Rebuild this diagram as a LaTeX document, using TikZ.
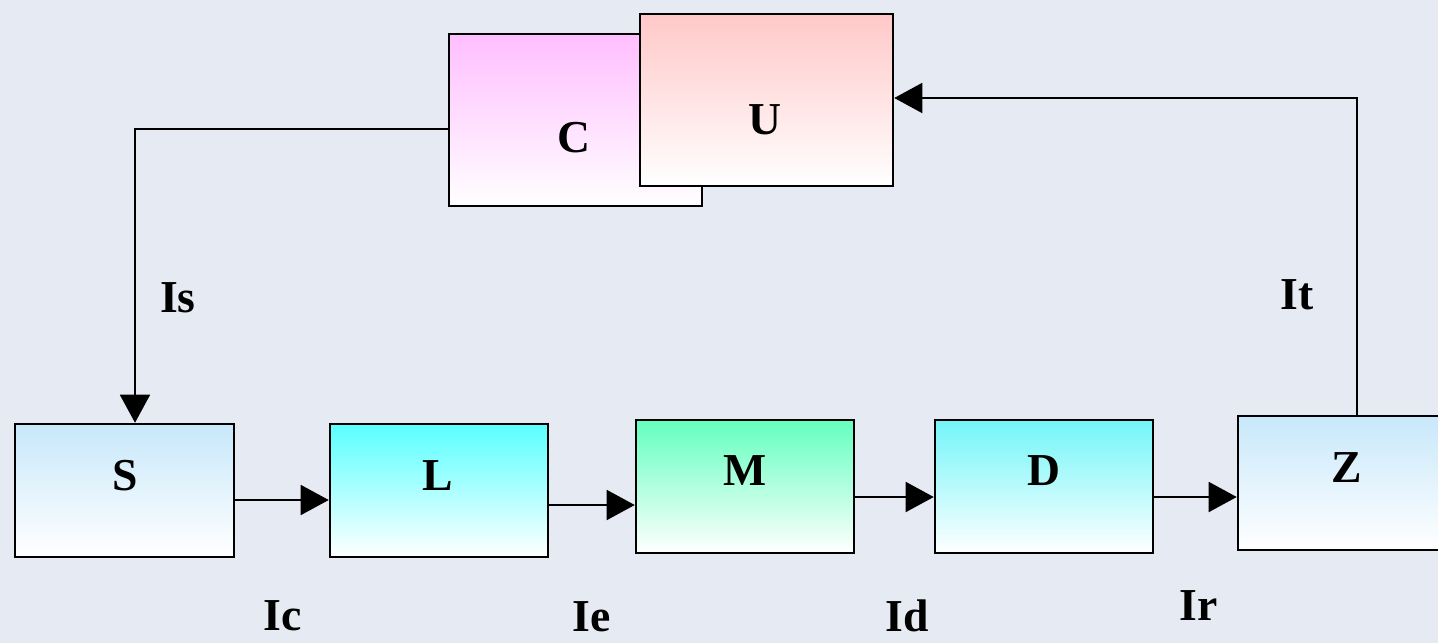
\documentclass[tikz,border=0pt]{standalone}
\usepackage{fontspec}
\setmainfont{Liberation Serif}
\usetikzlibrary{arrows.meta}
\definecolor{bgcol}{RGB}{230,235,243}
\definecolor{scol}{RGB}{200,232,250}
\definecolor{lcol}{RGB}{90,255,255}
\definecolor{mcol}{RGB}{100,255,190}
\definecolor{dcol}{RGB}{115,245,248}
\definecolor{zcol}{RGB}{200,232,250}
\definecolor{ccol}{RGB}{255,190,255}
\definecolor{ucol}{RGB}{255,200,200}
\tikzset{
  blockbox/.style={draw=black, line width=1.4pt, bottom color=white, inner sep=0pt},
  lbl/.style={font=\fontsize{26}{30}\selectfont\bfseries, inner sep=0pt},
  conn/.style={draw=black, line width=1.4pt},
  arr/.style={conn, -{Triangle[length=16pt,width=17pt]}},
}
\begin{document}
\begin{tikzpicture}[x=0.02cm,y=-0.02cm]
\useasboundingbox (0,0) rectangle (1438,643);
\fill[bgcol] (0,0) rectangle (1438,643);
\clip (0,0) rectangle (1438,643);
% boxes
\node[blockbox, top color=ccol, minimum width=253*0.02cm, minimum height=172*0.02cm] (C) at (575.5,120) {};
\node[blockbox, top color=ucol, minimum width=253*0.02cm, minimum height=172*0.02cm] (U) at (766.5,100) {};
\node[blockbox, top color=scol, minimum width=219*0.02cm, minimum height=133*0.02cm] (S) at (124.5,490.5) {};
\node[blockbox, top color=lcol, minimum width=218*0.02cm, minimum height=133*0.02cm] (L) at (439,490.5) {};
\node[blockbox, top color=mcol, minimum width=218*0.02cm, minimum height=133*0.02cm] (M) at (745,486.5) {};
\node[blockbox, top color=dcol, minimum width=218*0.02cm, minimum height=133*0.02cm] (D) at (1044,486.5) {};
\node[blockbox, top color=zcol, minimum width=230*0.02cm, minimum height=134*0.02cm] (Z) at (1353,483) {};
% box texts
\node[lbl] (tC) at (574,138) {C};
\node[lbl] (tU) at (765,120) {U};
\node[lbl] (tS) at (125,476) {S};
\node[lbl] (tL) at (438,476) {L};
\node[lbl] (tM) at (745,471) {M};
\node[lbl] (tD) at (1044,471) {D};
\node[lbl] (tZ) at (1347,468) {Z};
% coordinates
\coordinate (c1) at (135,129);
\coordinate (z1) at (1357,98);
% connectors
\draw[arr] (C.west |- c1) -- (c1) -- (S.north -| c1);
\draw[arr] (S.east |- 0,500) -- (L.west |- 0,500);
\draw[arr] (L.east |- 0,505) -- (M.west |- 0,505);
\draw[arr] (M.east |- 0,497) -- (D.west |- 0,497);
\draw[arr] (D.east |- 0,497) -- (Z.west |- 0,497);
\draw[arr] (Z.north -| z1) -- (z1) -- (U.east |- z1);
% connector labels
\node[lbl] (Is) at (178,298) {Is};
\node[lbl] (It) at (1297,295) {It};
\node[lbl] (Ic) at (283,616) {Ic};
\node[lbl] (Ie) at (592,617) {Ie};
\node[lbl] (Id) at (907,616) {Id};
\node[lbl] (Ir) at (1199,606) {Ir};
\end{tikzpicture}
\end{document}
